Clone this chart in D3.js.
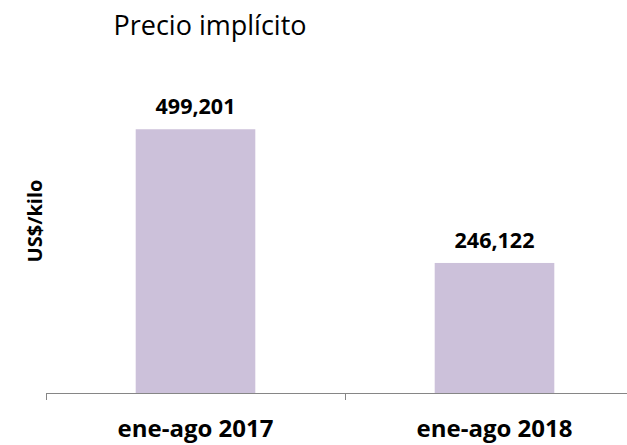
<!DOCTYPE html>
<html>
<head>
<meta charset="utf-8">
<script src="https://cdn.jsdelivr.net/npm/d3@7/dist/d3.min.js"></script>
<style>
  html, body { margin: 0; padding: 0; background: #fff; }
  svg { display: block; font-family: "Open Sans", "Noto Sans", sans-serif; }
</style>
</head>
<body>
<svg id="chart" width="627" height="445"></svg>
<script>
const categories = ["ene-ago 2017", "ene-ago 2018"];
const values = [499.201, 246.122];
const valueLabels = ["499,201", "246,122"];
const chartTitle = "Precio implícito";
const yLabel = "US$/kilo";

const svg = d3.select("#chart");

const plot = { left: 46, right: 644, top: 76, bottom: 393 };

const x = d3.scaleBand()
  .domain(categories)
  .range([plot.left, plot.right])
  .paddingInner(0)
  .paddingOuter(0);

const barFrac = 0.4;

const y = d3.scaleLinear()
  .domain([0, 600])
  .range([plot.bottom, plot.top]);

// bars
svg.append("g").selectAll("rect")
  .data(categories)
  .join("rect")
  .attr("x", d => x(d) + x.bandwidth() * (1 - barFrac) / 2)
  .attr("width", x.bandwidth() * barFrac)
  .attr("y", (d, i) => y(values[i]))
  .attr("height", (d, i) => y(0) - y(values[i]))
  .attr("fill", "#CCC1DA");

// value labels above the bars
svg.append("g").selectAll("text")
  .data(categories)
  .join("text")
  .attr("x", d => x(d) + x.bandwidth() / 2)
  .attr("y", (d, i) => y(values[i]) - 15)
  .attr("text-anchor", "middle")
  .attr("font-size", 21.5)
  .attr("font-weight", "bold")
  .attr("fill", "#000")
  .text((d, i) => valueLabels[i]);

// category axis line
const axis = svg.append("g")
  .attr("transform", `translate(0,${plot.bottom})`)
  .call(d3.axisBottom(x).tickSize(0).tickFormat(""));
axis.select(".domain").attr("stroke", "#868686").attr("stroke-width", 1);
axis.selectAll(".tick").remove();

// tick marks at band boundaries
const boundaries = [plot.left, ...categories.slice(1).map(c => x(c))];
axis.selectAll("line.sep")
  .data(boundaries)
  .join("line")
  .attr("class", "sep")
  .attr("x1", d => Math.round(d) + 0.5)
  .attr("x2", d => Math.round(d) + 0.5)
  .attr("y1", 0)
  .attr("y2", 7)
  .attr("stroke", "#868686");

// category labels
svg.append("g").selectAll("text")
  .data(categories)
  .join("text")
  .attr("x", d => x(d) + x.bandwidth() / 2)
  .attr("y", 437)
  .attr("text-anchor", "middle")
  .attr("font-size", 24)
  .attr("font-weight", "bold")
  .attr("fill", "#000")
  .text(d => d);

// y axis title
svg.append("text")
  .attr("transform", "translate(42,221) rotate(-90)")
  .attr("text-anchor", "middle")
  .attr("font-size", 20)
  .attr("font-weight", "bold")
  .attr("fill", "#000")
  .text(yLabel);

// chart title
svg.append("text")
  .attr("x", 210)
  .attr("y", 35)
  .attr("text-anchor", "middle")
  .attr("font-size", 27)
  .attr("fill", "#000")
  .text(chartTitle);
</script>
</body>
</html>
